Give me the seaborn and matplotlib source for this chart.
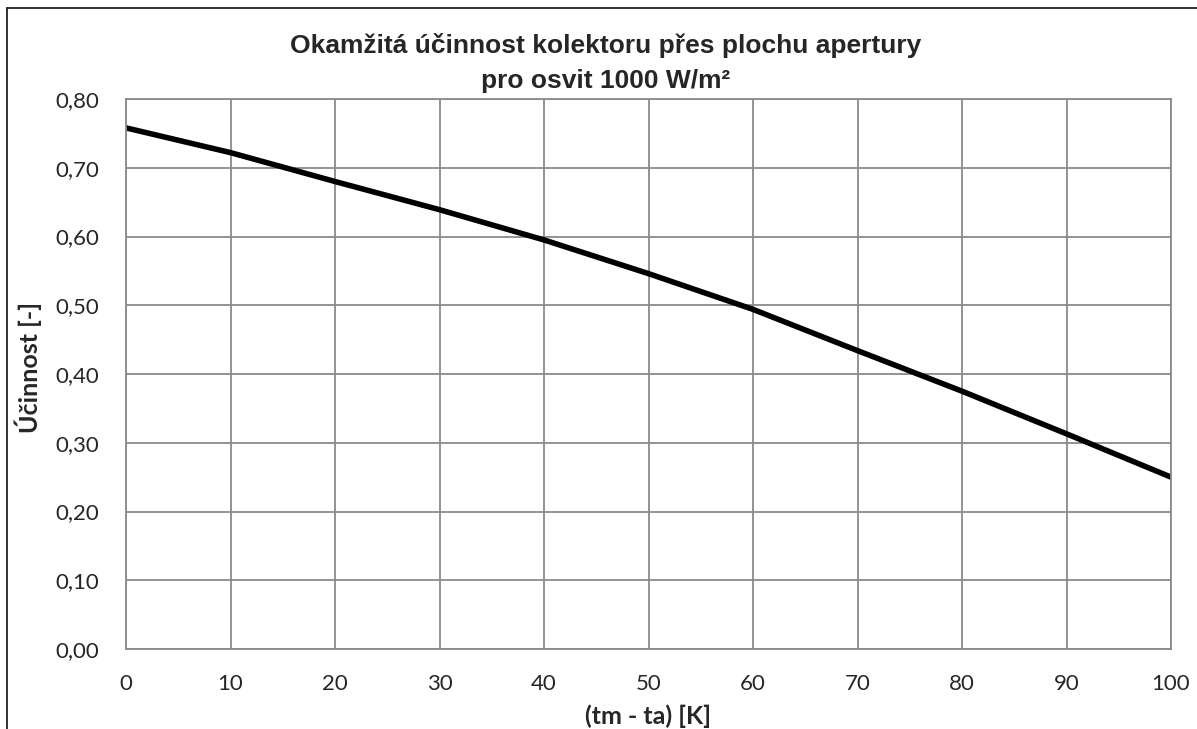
import matplotlib
matplotlib.use("Agg")
import matplotlib.pyplot as plt
import matplotlib.lines as mlines
import pandas as pd
import seaborn as sns

# values
temp_diff = [0, 10, 20, 30, 40, 50, 60, 70, 80, 90, 100]
efficiency = [0.758, 0.722, 0.680, 0.639, 0.595, 0.546, 0.494, 0.434, 0.375, 0.313, 0.250]
x_ticks = [0, 10, 20, 30, 40, 50, 60, 70, 80, 90, 100]
y_ticks = [0.0, 0.1, 0.2, 0.3, 0.4, 0.5, 0.6, 0.7, 0.8]
y_tick_labels = ["0,00", "0,10", "0,20", "0,30", "0,40", "0,50", "0,60", "0,70", "0,80"]

title_1 = "Okamžitá účinnost kolektoru přes plochu apertury"
title_2 = "pro osvit 1000 W/m²"

df = pd.DataFrame({"dt": temp_diff, "eta": efficiency})

sns.set_style("white")
plt.rcParams["font.family"] = ["Lato", "DejaVu Sans"]

W, H = 1197, 729
fig = plt.figure(figsize=(W / 100, H / 100), dpi=100)
ax = fig.add_axes([126 / W, 1 - 649 / H, (1171 - 126) / W, (649 - 99) / H])

sns.lineplot(data=df, x="dt", y="eta", color="black", lw=4, ax=ax)

ax.set_xlim(0, 100)
ax.set_ylim(0, 0.8)
ax.set_xticks(x_ticks)
ax.set_yticks(y_ticks)
ax.set_yticklabels(y_tick_labels)
ax.grid(True, color="#8a8a8a", lw=1.3)
ax.set_axisbelow(True)
for s in ax.spines.values():
    s.set_color("#8a8a8a")
    s.set_linewidth(1.3)
ax.tick_params(axis="x", length=0, labelsize=16, pad=18)
ax.tick_params(axis="y", length=0, labelsize=16, pad=19)

ax.set_xlabel("(tm - ta) [K]", fontsize=18, fontweight="bold", va="center")
ax.set_ylabel("Účinnost [-]", fontsize=18, fontweight="bold", va="center")
ax.xaxis.set_label_coords(0.5, (649 - 716) / 550)
ax.yaxis.set_label_coords((28 - 126) / 1045, (649 - 367) / 550)

fig.text(606 / W, 1 - 53 / H, title_1, ha="center", va="baseline",
         fontsize=19, fontweight="bold", family="Liberation Sans")
fig.text(606 / W, 1 - 88 / H, title_2, ha="center", va="baseline",
         fontsize=19, fontweight="bold", family="Liberation Sans")

# outer chart frame (left and top edges visible)
fig.add_artist(mlines.Line2D([7 / W, 7 / W], [0, 1 - 8 / H], color="#222222", lw=1.3))
fig.add_artist(mlines.Line2D([7 / W, 1], [1 - 8 / H, 1 - 8 / H], color="#222222", lw=1.3))

fig.savefig("out.png", dpi=100)
